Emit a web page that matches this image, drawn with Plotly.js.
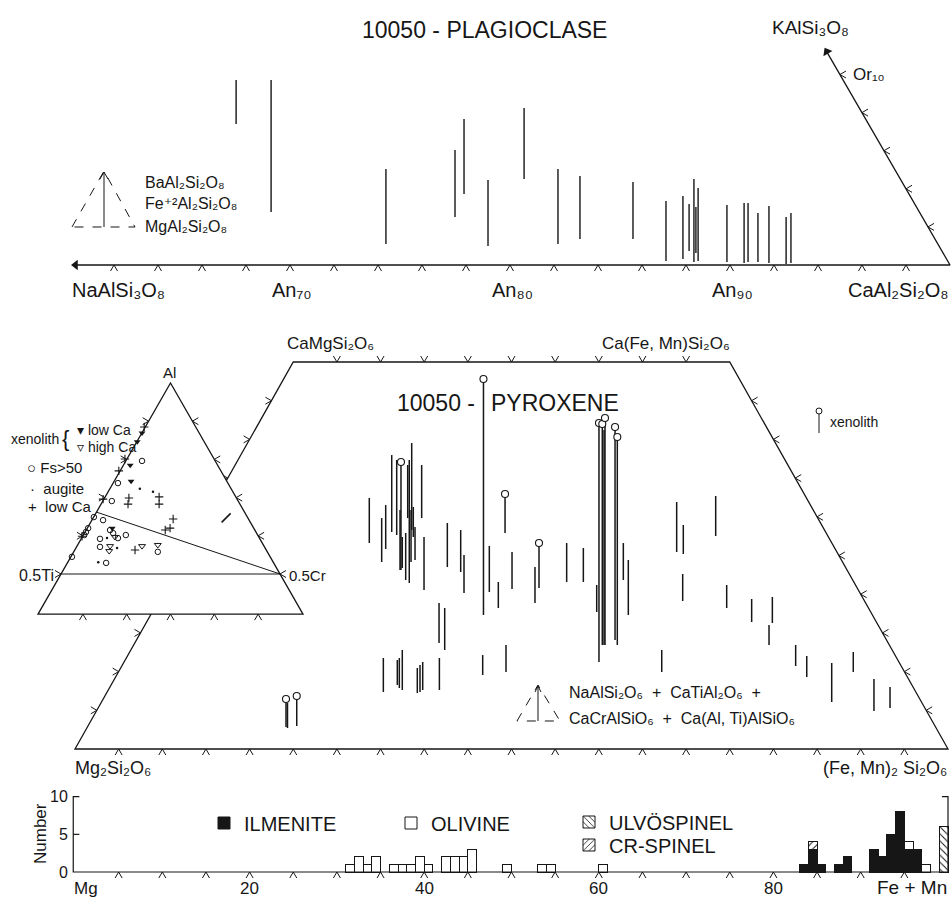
<!DOCTYPE html>
<html><head><meta charset="utf-8">
<script src="https://cdn.plot.ly/plotly-3.0.1.min.js"></script>
<style>html,body{margin:0;padding:0;background:#fff;}#chart{width:951px;height:901px;}</style>
</head><body><div id="chart"></div>
<script>
// ================= DATA =================
// Plagioclase: An content and vertical extent (minor components, Or-height units)
const plagAn     = [67.55, 69.14, 74.36, 77.50, 77.91, 79.00, 80.64, 82.18, 83.18, 85.59, 87.09, 87.86, 88.14, 88.36, 88.45, 88.55, 89.86, 90.64, 90.82, 91.27, 91.77, 92.55, 92.77];
const plagTop    = [9.71, 9.71, 5.04, 6.04, 7.66, 4.46, 8.24, 5.04, 4.67, 4.36, 3.36, 3.62, 3.20, 4.51, 3.04, 4.04, 3.15, 3.25, 3.25, 2.73, 3.10, 2.52, 2.73];
const plagBottom = [7.40, 2.78, 1.10, 2.52, 3.73, 1.00, 4.51, 1.10, 1.36, 1.36, 0.21, 0.31, 0.73, 0.16, 0.63, 0.21, 0.16, 0.10, 0.16, 0.16, 0.10, 0.05, 0.10];
const plagAnTicks = [62, 64, 66, 68, 70, 72, 74, 76, 78, 80, 82, 84, 86, 88, 90, 92, 94, 96, 98];
const plagOrTicks = [2, 4, 6, 8, 10];
const plagAnLabels = [70, 80, 90];
const plagAxisEndAn = 60;      // arrow end of the Ab-An axis
const plagOrAxisEnd = 11.4;    // arrow end of the Or axis (Or %)

// Pyroxene quadrilateral: projected Fs position and Wo extent of each bar
const pyxX   = [24.34, 33.71, 35.13, 35.59, 36.28, 36.85, 37.23, 37.49, 37.88, 38.11, 38.29, 38.49, 38.57, 38.75, 38.95, 39.71, 39.98, 41.70, 42.35, 42.65, 44.18, 44.56, 47.46, 48.49, 50.06, 52.69, 56.32, 58.23, 59.76, 60.60, 62.81, 63.38, 68.92, 69.68, 69.61, 73.39, 74.65, 77.51, 79.88, 79.50, 67.21, 82.55, 83.82, 86.68, 89.15, 91.52, 93.36, 46.70, 49.37, 35.32, 36.92, 37.15, 37.49, 39.21, 39.52, 39.83, 41.74];
const pyxTop = [5.94, 32.43, 29.84, 31.52, 37.98, 37.34, 30.88, 27.39, 27.91, 36.69, 37.34, 30.88, 39.53, 31.27, 28.68, 36.69, 27.39, 18.86, 18.22, 29.20, 28.29, 25.06, 26.23, 21.58, 25.45, 23.51, 26.61, 25.97, 21.19, 41.21, 26.61, 24.42, 31.91, 28.94, 22.61, 32.69, 21.19, 19.38, 19.64, 16.02, 12.79, 13.44, 12.02, 11.11, 12.53, 9.04, 8.01, 12.14, 13.44, 11.76, 11.50, 11.76, 12.79, 10.47, 10.85, 11.24, 11.76];
const pyxBot = [2.71, 26.61, 24.16, 25.84, 28.04, 27.65, 23.13, 23.39, 21.83, 29.84, 21.45, 24.16, 28.29, 27.39, 24.42, 29.84, 20.54, 13.70, 12.79, 23.51, 22.87, 20.16, 20.28, 18.22, 20.67, 18.86, 21.58, 21.58, 17.70, 13.44, 21.83, 17.31, 25.45, 25.19, 19.12, 27.52, 18.22, 16.41, 16.28, 13.44, 9.95, 10.72, 9.30, 6.07, 9.95, 4.91, 5.30, 9.56, 9.95, 7.36, 8.27, 7.88, 7.62, 7.24, 7.36, 7.62, 7.62];
// Xenolith pyroxenes (bars capped by a circle)
const xenoX   = [24.17, 25.40, 37.34, 46.79, 49.26, 53.15, 60.02, 60.40, 60.71, 61.86, 62.12];
const xenoTop = [6.46, 6.85, 37.08, 47.80, 32.95, 26.61, 42.12, 41.99, 42.76, 41.60, 40.31];
const xenoBot = [2.84, 2.97, 23.13, 17.31, 27.91, 20.80, 11.24, 13.44, 13.44, 14.08, 13.44];
const pyxBottomTicks = [5, 10, 15, 20, 25, 30, 35, 40, 45, 50, 55, 60, 65, 70, 75, 80, 85, 90, 95];
const pyxTopTicks = [30, 35, 40, 45, 50, 55, 60, 65, 70];
const pyxSideTicksWo = [5, 10, 15, 20, 25, 30, 35, 40, 45];

// Al - Ti - Cr inset: projected position (Cr + Al/2) and Al fraction
const lowCaX     = [0.440, 0.396, 0.382, 0.474, 0.405, 0.346, 0.403, 0.474, 0.506, 0.499, 0.488, 0.298, 0.419];
const lowCaAl    = [0.885, 0.801, 0.770, 0.702, 0.699, 0.696, 0.683, 0.683, 0.644, 0.620, 0.615, 0.599, 0.563];
const xenoLowX   = [0.435, 0.424, 0.408, 0.410, 0.367];
const xenoLowAl  = [0.869, 0.846, 0.785, 0.743, 0.620];
const xenoHighX  = [0.373, 0.362, 0.435, 0.471, 0.360];
const xenoHighAl = [0.597, 0.573, 0.573, 0.576, 0.560];
const fsX        = [0.435, 0.380, 0.366, 0.325, 0.346, 0.312, 0.307, 0.303, 0.362, 0.369, 0.398, 0.339, 0.380, 0.339, 0.471, 0.275, 0.353];
const fsAl       = [0.796, 0.738, 0.691, 0.649, 0.641, 0.620, 0.610, 0.602, 0.615, 0.607, 0.602, 0.592, 0.594, 0.571, 0.558, 0.545, 0.529];
const augiteX    = [0.430, 0.460, 0.355, 0.378, 0.335];
const augiteAl   = [0.723, 0.715, 0.594, 0.568, 0.531];
const crRichX    = [0.627];
const crRichAl   = [0.647];
const triSideTicksAl = [0.9, 0.8, 0.7, 0.6, 0.5];
const triBaseTicks   = [0.3, 0.4, 0.5, 0.6, 0.7];

// Histogram (bins: left edge in Fe/(Fe+Mg+Mn) x100, counts)
const ilmeniteBins   = [83, 84, 85, 87, 88, 91, 92, 93, 94, 95, 96];
const ilmeniteCounts = [1, 3, 1, 1, 2, 3, 2, 5, 8, 3, 3];
const olivineBins    = [31, 32, 33, 34, 36, 37, 38, 39, 40, 42, 43, 44, 45, 49, 53, 54, 60, 95, 97];
const olivineCounts  = [1, 2, 1, 2, 1, 1, 1, 2, 1, 2, 2, 2, 3, 1, 1, 1, 1, 1, 1];
const crSpinelBins   = [84];
const crSpinelCounts = [1];
const ulvoBins       = [99];
const ulvoCounts     = [6];
const histTicks      = [5, 10, 15, 20, 25, 30, 35, 40, 45, 50, 55, 60, 65, 70, 75, 80, 85, 90, 95];
const histXLabels    = [20, 40, 60, 80];
const histYLabels    = [0, 5, 10];

// ================= DRAWING =================
const W = 951, H = 901;
const INK = '#161616';
const FONT = 'Liberation Sans, DejaVu Sans, Arial, sans-serif';
const SUB = {'0': '₀', '1': '₁', '2': '₂', '3': '₃', '4': '₄', '5': '₅', '6': '₆', '7': '₇', '8': '₈', '9': '₉'};
const sub = s => String(s).split('').map(c => SUB[c] || c).join('');
const R = {
  plag: {x: [56.818, 100.045], y: [-33.386, 13.911]},
  pyx:  {x: [-8.591, 100.344], y: [-19.638, 96.770]},
  tri:  {x: [0.1107, 2.2820],  y: [-0.356, 2.0026]},
  hist: {x: [-8.591, 100.344], y: [-3.851, 115.80]}
};
const AX = {plag: ['x', 'y'], pyx: ['x2', 'y2'], tri: ['x3', 'y3'], hist: ['x4', 'y4']};
function k(p) { return {kx: W / (R[p].x[1] - R[p].x[0]), ky: H / (R[p].y[1] - R[p].y[0])}; }

function chevrons(p, xs, ys, dir, len = 6, half = 3.5) {
  const {kx, ky} = k(p);
  const o = {down: [[-half, len], [half, len]], up: [[-half, -len], [half, -len]],
             left: [[-len, -half], [-len, half]], right: [[len, -half], [len, half]]}[dir];
  const X = [], Y = [];
  xs.forEach((x, i) => {
    const y = ys[i];
    X.push(x + o[0][0] / kx, x, x + o[1][0] / kx, null);
    Y.push(y - o[0][1] / ky, y, y - o[1][1] / ky, null);
  });
  return {X, Y};
}
function segs(xs, a, b) {
  const X = [], Y = [];
  xs.forEach((x, i) => { X.push(x, x, null); Y.push(a[i], b[i], null); });
  return {X, Y};
}
function lines(p, d, width = 1, color = INK) {
  return {type: 'scatter', mode: 'lines', x: d.X, y: d.Y, xaxis: AX[p][0], yaxis: AX[p][1],
          line: {color, width}, hoverinfo: 'skip', showlegend: false, connectgaps: false};
}
function pts(p, x, y, marker) {
  return {type: 'scatter', mode: 'markers', x, y, xaxis: AX[p][0], yaxis: AX[p][1],
          marker, hoverinfo: 'skip', showlegend: false};
}

const traces = [];
// --- plagioclase ---
const orEndAn = 100 - plagOrAxisEnd / 2;
traces.push(lines('plag', {X: [plagAxisEndAn + 0.3, 100, orEndAn + 0.12], Y: [0, 0, plagOrAxisEnd - 0.25]}, 1.3));
traces.push(pts('plag', [plagAxisEndAn + 0.25], [0], {symbol: 'triangle-left', size: 9, color: INK}));
traces.push(pts('plag', [orEndAn + 0.1], [plagOrAxisEnd - 0.2], {symbol: 'triangle-up', size: 9, color: INK, angle: -29.5}));
traces.push(lines('plag', segs(plagAn, plagBottom, plagTop), 1.4));
traces.push(lines('plag', chevrons('plag', plagAnTicks, plagAnTicks.map(() => 0), 'down'), 1));
traces.push(lines('plag', chevrons('plag', plagOrTicks.map(o => 100 - o / 2), plagOrTicks, 'right'), 1));

// --- pyroxene ---
traces.push(lines('pyx', segs(pyxX, pyxBot, pyxTop), 1.5));
traces.push(lines('pyx', segs(xenoX, xenoBot, xenoTop), 1.5));
traces.push(pts('pyx', xenoX, xenoTop, {symbol: 'circle', size: 7, color: '#fff', line: {color: INK, width: 1.1}}));
traces.push(lines('pyx', chevrons('pyx', pyxBottomTicks, pyxBottomTicks.map(() => 0), 'down'), 1));
traces.push(lines('pyx', chevrons('pyx', pyxTopTicks, pyxTopTicks.map(() => 50), 'up'), 1));
traces.push(lines('pyx', chevrons('pyx', pyxSideTicksWo.map(w => w / 2), pyxSideTicksWo, 'left'), 1));
traces.push(lines('pyx', chevrons('pyx', pyxSideTicksWo.map(w => 100 - w / 2), pyxSideTicksWo, 'right'), 1));

// --- Al-Ti-Cr inset ---
traces.push(lines('tri', chevrons('tri', triSideTicksAl.map(a => a / 2), triSideTicksAl, 'left'), 1));
traces.push(lines('tri', chevrons('tri', triSideTicksAl.map(a => 1 - a / 2), triSideTicksAl, 'right'), 1));
traces.push(lines('tri', chevrons('tri', triBaseTicks, triBaseTicks.map(() => 0.395), 'down'), 1));
traces.push(pts('tri', fsX, fsAl, {symbol: 'circle-open', size: 5.5, color: INK, line: {width: 1}}));
traces.push(pts('tri', lowCaX, lowCaAl, {symbol: 'cross-thin-open', size: 6, color: INK, line: {width: 1.1, color: INK}}));
traces.push(pts('tri', xenoLowX, xenoLowAl, {symbol: 'triangle-down', size: 6, color: INK}));
traces.push(pts('tri', xenoHighX, xenoHighAl, {symbol: 'triangle-down-open', size: 6, color: INK, line: {width: 1}}));
traces.push(pts('tri', augiteX, augiteAl, {symbol: 'circle', size: 2.5, color: INK}));
traces.push(pts('tri', crRichX, crRichAl, {symbol: 'line-ne-open', size: 9, color: INK, line: {width: 1.6, color: INK}}));

// --- histogram ---
traces.push(lines('hist', chevrons('hist', histTicks, histTicks.map(() => 0), 'down'), 1));
function bars(x, y, name, legend, marker) {
  return {type: 'bar', x, y, offset: 0, width: 1, xaxis: 'x4', yaxis: 'y4', name, legend,
          marker: Object.assign({line: {color: INK, width: 1}}, marker), hoverinfo: 'skip', showlegend: true};
}
traces.push(bars(ilmeniteBins, ilmeniteCounts, 'ILMENITE', 'legend', {color: INK}));
traces.push(bars(olivineBins, olivineCounts, 'OLIVINE', 'legend2', {color: '#fff'}));
traces.push(bars(ulvoBins, ulvoCounts, 'ULVÖSPINEL', 'legend3',
  {color: '#fff', pattern: {shape: '\\', fgcolor: INK, bgcolor: '#fff', size: 5, solidity: 0.2}}));
traces.push(bars(crSpinelBins, crSpinelCounts, 'CR-SPINEL', 'legend4',
  {color: '#fff', pattern: {shape: '/', fgcolor: INK, bgcolor: '#fff', size: 5, solidity: 0.2}}));

// ================= LAYOUT =================
function axis(r, anchor) {
  return {range: r, domain: [0, 1], visible: false, showgrid: false, zeroline: false, fixedrange: true, anchor};
}
function T(text, px, py, size, align = 'center', extra = {}) {
  return Object.assign({xref: 'paper', yref: 'paper', x: px / W, y: 1 - py / H, text, showarrow: false,
    xanchor: align, yanchor: 'middle', font: {family: FONT, size, color: INK}}, extra);
}
function P(pxs) { // pixel polyline -> paper path
  return pxs.map((q, i) => (i ? 'L' : 'M') + (q[0] / W).toFixed(5) + ',' + (1 - q[1] / H).toFixed(5)).join(' ');
}

const annotations = [
  // plagioclase
  T('10050 - PLAGIOCLASE', 484, 30, 23),
  T('KAlSi' + sub(3) + 'O' + sub(8), 770, 27, 19, 'left'),
  T('Or' + sub(10), 851, 75, 17, 'left'),
  T('NaAlSi' + sub(3) + 'O' + sub(8), 70, 290, 20, 'left'),
  T('CaAl' + sub(2) + 'Si' + sub(2) + 'O' + sub(8), 951, 290, 20, 'right'),
  T('BaAl' + sub(2) + 'Si' + sub(2) + 'O' + sub(8), 143, 182, 16, 'left'),
  T('Fe⁺²Al' + sub(2) + 'Si' + sub(2) + 'O' + sub(8), 143, 204, 16, 'left'),
  T('MgAl' + sub(2) + 'Si' + sub(2) + 'O' + sub(8), 143, 226, 16, 'left'),
  // pyroxene
  T('10050 -', 477, 403, 23, 'right'),
  T('PYROXENE', 489, 403, 23, 'left'),
  T('CaMgSi' + sub(2) + 'O' + sub(6), 285, 344, 17, 'left'),
  T('Ca(Fe, Mn)Si' + sub(2) + 'O' + sub(6), 600, 344, 17, 'left'),
  T('Mg' + sub(2) + 'Si' + sub(2) + 'O' + sub(6), 73, 768, 18, 'left'),
  T('(Fe, Mn)' + sub(2) + ' Si' + sub(2) + 'O' + sub(6), 949, 768, 18, 'right'),
  T('xenolith', 828, 422, 14, 'left'),
  T('NaAlSi' + sub(2) + 'O' + sub(6) + '  +  CaTiAl' + sub(2) + 'O' + sub(6) + '  +', 567, 692, 16, 'left'),
  T('CaCrAlSiO' + sub(6) + '  +  Ca(Al, Ti)AlSiO' + sub(6), 567, 718, 16, 'left'),
  // inset
  T('Al', 169, 372, 15),
  T('0.5Ti', 56, 575, 16, 'right'),
  T('0.5Cr', 287, 575, 15, 'left'),
  T('xenolith', 9, 439, 14, 'left'),
  T('{', 60, 438, 22, 'left'),
  T('▾ low Ca', 75, 430, 14, 'left'),
  T('▿ high Ca', 75, 447, 14, 'left'),
  T('○ Fs>50', 25, 467, 15, 'left'),
  T('·  augite', 28, 488, 15, 'left'),
  T('+  low Ca', 26, 506, 15, 'left'),
  // histogram
  T('Number', 40, 834, 17, 'center', {textangle: -90}),
  T('Mg', 72, 900, 17, 'left', {yanchor: 'bottom'}),
  T('Fe + Mn', 949, 900, 19, 'right', {yanchor: 'bottom'})
];
plagAnLabels.forEach(a => annotations.push(Object.assign(T('An' + sub(a), 0, 290, 20), {xref: 'x', x: a + 0.1})));
histXLabels.forEach(v => annotations.push(Object.assign(T(String(v), 0, 900, 17, 'center', {yanchor: 'bottom'}), {xref: 'x4', x: v})));
histYLabels.forEach(v => annotations.push(Object.assign(T(String(v), 70, 0, 16, 'right'), {yref: 'y4', y: v})));

const shapes = [
  // pyroxene frame (below), inset triangle covers it
  {type: 'path', xref: 'x2', yref: 'y2', path: 'M0,0 L25,50 L75,50 L100,0 Z', layer: 'below', line: {color: INK, width: 1.3}},
  {type: 'path', xref: 'x3', yref: 'y3', path: 'M0.1975,0.395 L0.5,1 L0.8025,0.395 Z', layer: 'below', fillcolor: '#fff', line: {color: INK, width: 1.3}},
  {type: 'path', xref: 'x3', yref: 'y3', path: 'M0.25,0.5 L0.75,0.5', layer: 'below', line: {color: INK, width: 1}},
  {type: 'path', xref: 'x3', yref: 'y3', path: 'M0.75,0.5 L0.331,0.662', layer: 'below', line: {color: INK, width: 1}},
  // histogram frame
  {type: 'path', xref: 'x4', yref: 'y4', path: 'M0.5,10 L-0.2,10 L-0.2,0 L100,0 L100,10 L99.3,10', line: {color: INK, width: 1.2}},
  {type: 'path', xref: 'x4', yref: 'y4', path: 'M-0.2,5 L0.5,5', line: {color: INK, width: 1.2}},
  // legend glyphs: dashed triangles with arrows
  {type: 'path', xref: 'paper', yref: 'paper', path: P([[72, 227], [104, 171], [135, 227]]) + ' Z', line: {color: INK, width: 1, dash: 'dash'}},
  {type: 'path', xref: 'paper', yref: 'paper', path: P([[104, 227], [104, 172]]) + ' ' + P([[100, 179], [104, 172], [108, 179]]), line: {color: INK, width: 1}},
  {type: 'path', xref: 'paper', yref: 'paper', path: P([[517, 721], [538, 685], [560, 721]]) + ' Z', line: {color: INK, width: 1, dash: 'dash'}},
  {type: 'path', xref: 'paper', yref: 'paper', path: P([[538, 721], [538, 686]]) + ' ' + P([[535, 692], [538, 686], [541, 692]]), line: {color: INK, width: 1}},
  {type: 'path', xref: 'paper', yref: 'paper', path: P([[819, 414], [819, 433]]), line: {color: INK, width: 1}},
  {type: 'circle', xref: 'paper', yref: 'paper', x0: 816 / W, x1: 822 / W, y0: 1 - 414 / H, y1: 1 - 408 / H, line: {color: INK, width: 1}, fillcolor: '#fff'}
];

function leg(px, py) {
  return {x: px / W, y: 1 - py / H, xanchor: 'left', yanchor: 'middle', orientation: 'h', bgcolor: 'rgba(0,0,0,0)',
          font: {family: FONT, size: 20, color: INK}, borderwidth: 0};
}

const layout = {
  width: W, height: H, margin: {l: 0, r: 0, t: 0, b: 0},
  paper_bgcolor: '#fff', plot_bgcolor: 'rgba(0,0,0,0)',
  barmode: 'stack', bargap: 0, showlegend: true,
  xaxis: axis(R.plag.x, 'y'), yaxis: axis(R.plag.y, 'x'),
  xaxis2: axis(R.pyx.x, 'y2'), yaxis2: axis(R.pyx.y, 'x2'),
  xaxis3: axis(R.tri.x, 'y3'), yaxis3: axis(R.tri.y, 'x3'),
  xaxis4: axis(R.hist.x, 'y4'), yaxis4: axis(R.hist.y, 'x4'),
  legend: leg(204, 823), legend2: leg(391, 823), legend3: leg(569, 822), legend4: leg(569, 845),
  annotations, shapes
};

Plotly.newPlot('chart', traces, layout, {staticPlot: true, displayModeBar: false});
</script></body></html>
